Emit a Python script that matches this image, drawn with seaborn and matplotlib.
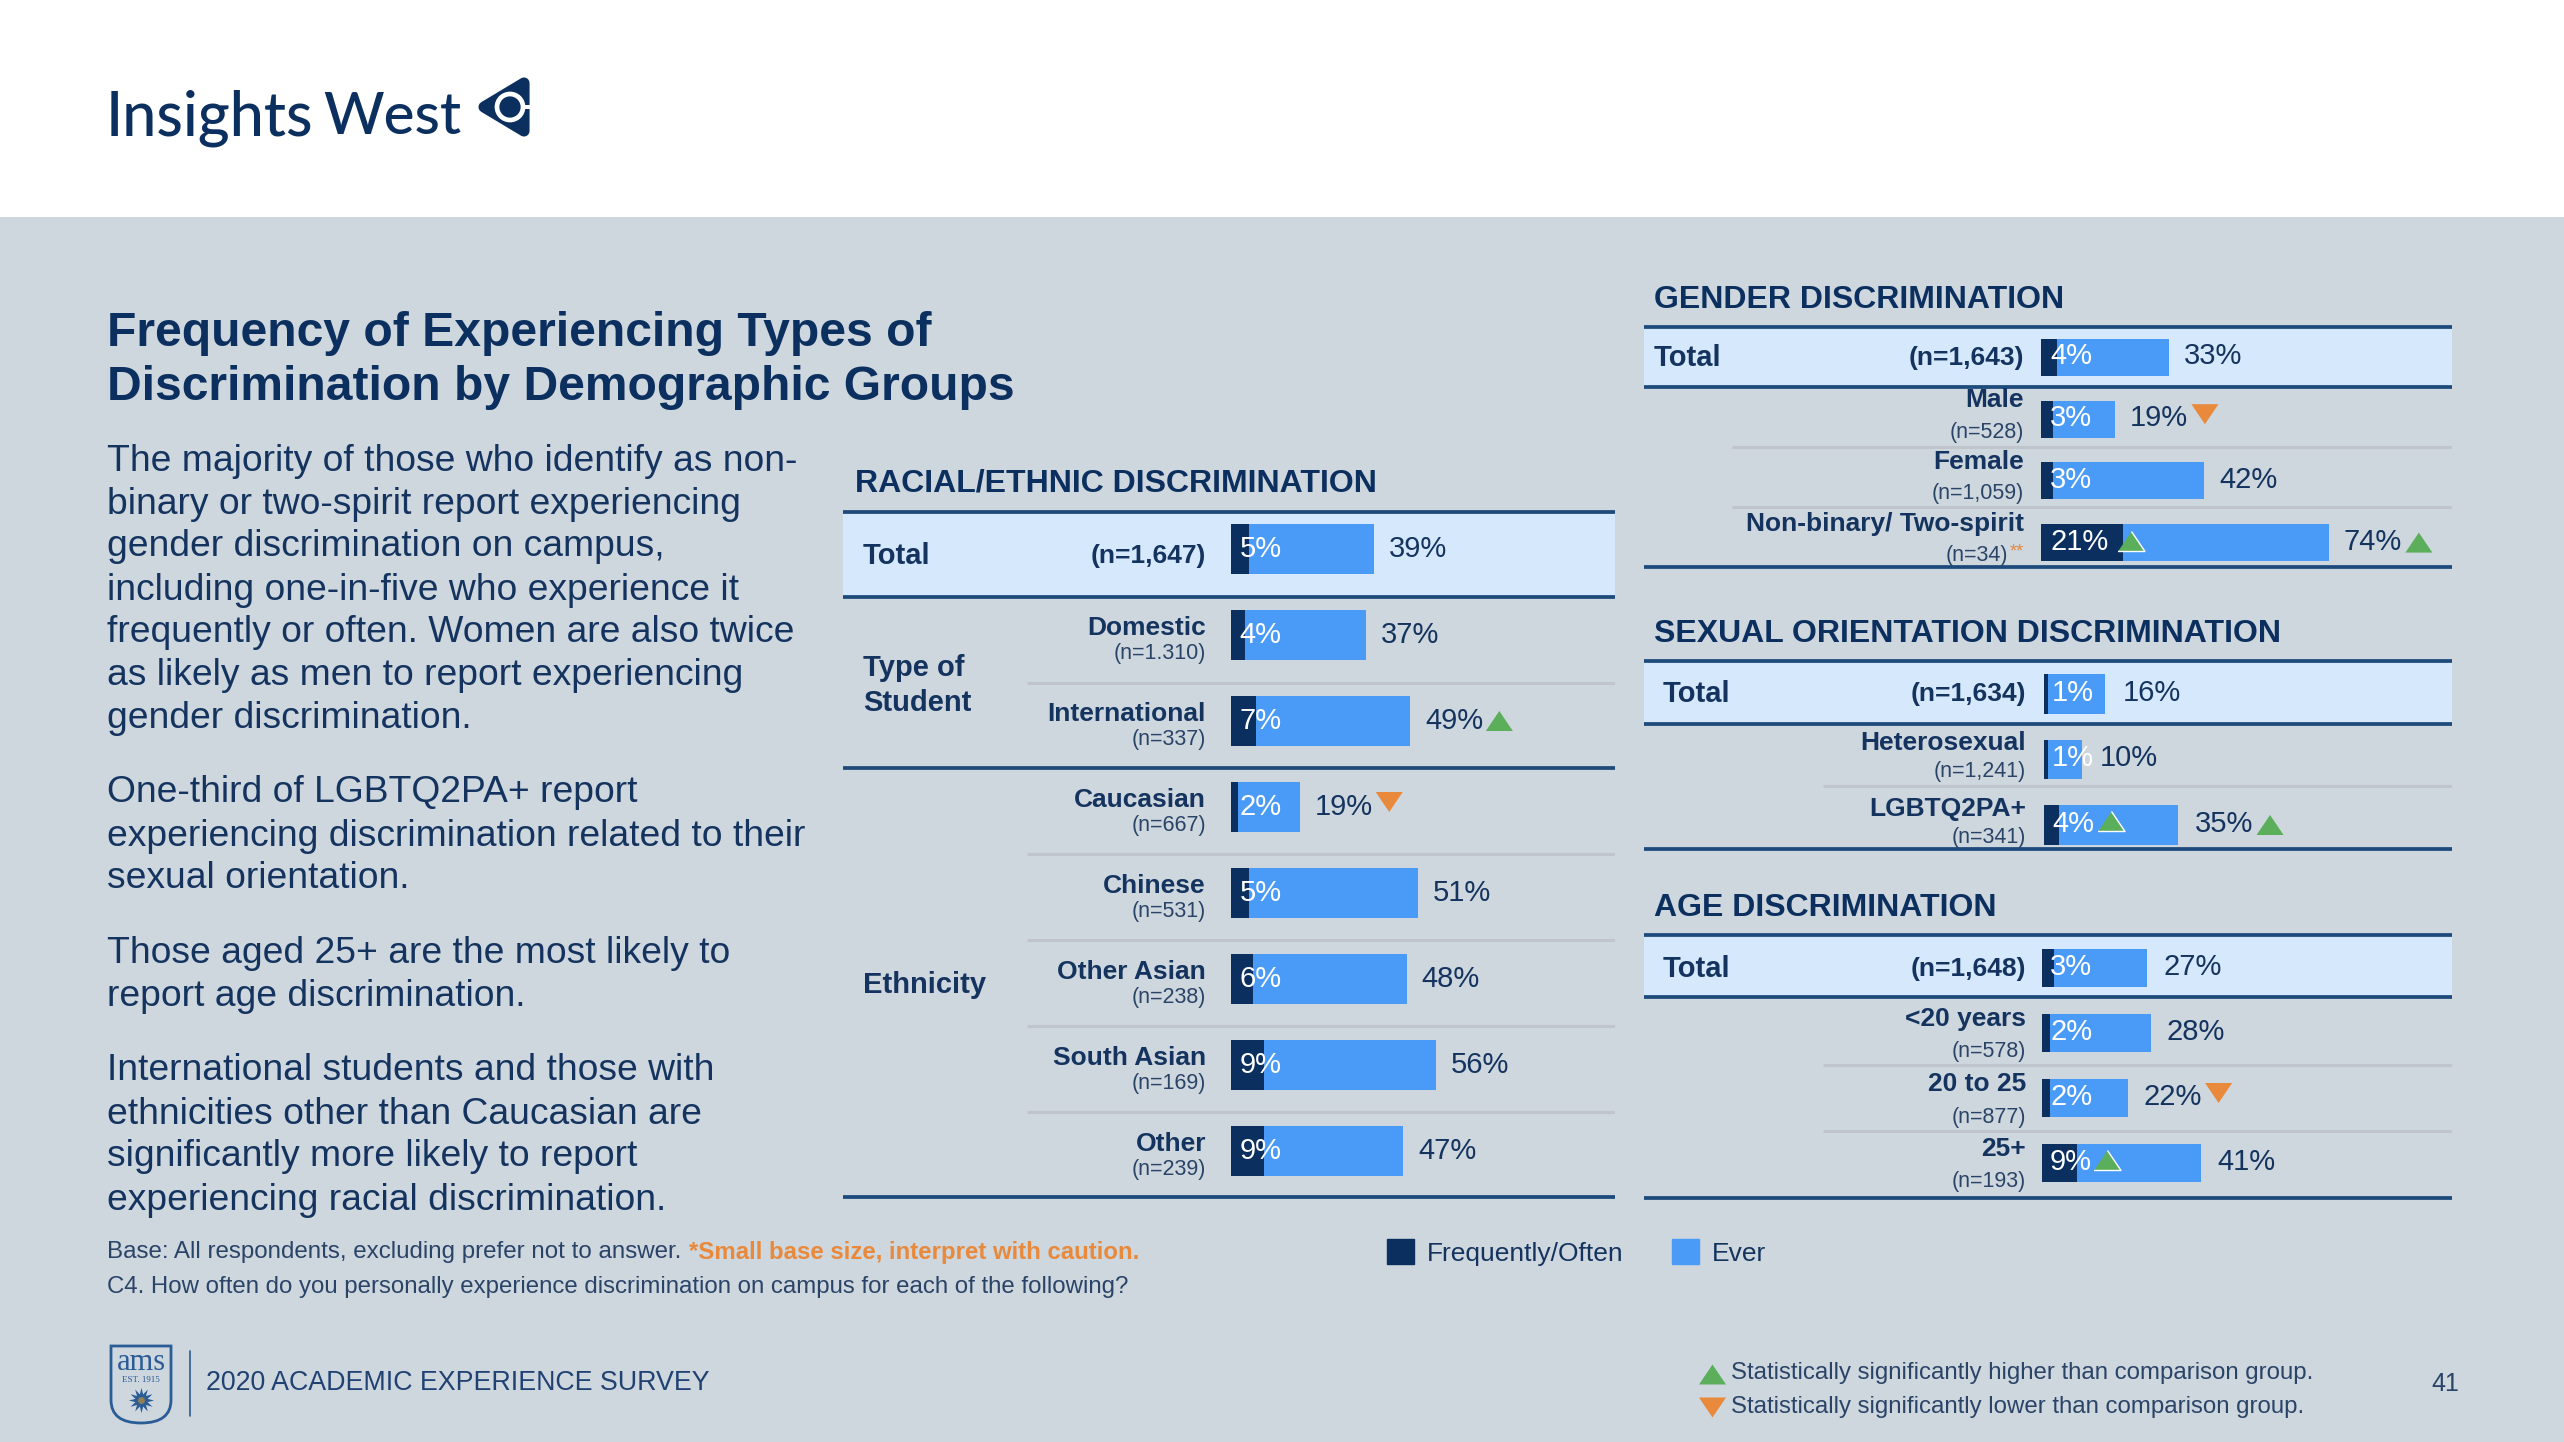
import matplotlib
matplotlib.use("Agg")
import matplotlib.pyplot as plt
import pandas as pd
import seaborn as sns
from matplotlib.patches import Rectangle, Polygon, Circle, PathPatch, Patch
from matplotlib.path import Path
from matplotlib.transforms import ScaledTranslation

# ---------------- data ----------------
race_labels = ["Total", "Domestic", "International", "Caucasian", "Chinese", "Other Asian", "South Asian", "Other"]
race_n = ["(n=1,647)", "(n=1.310)", "(n=337)", "(n=667)", "(n=531)", "(n=238)", "(n=169)", "(n=239)"]
race_freq = [5, 4, 7, 2, 5, 6, 9, 9]
race_ever = [39, 37, 49, 19, 51, 48, 56, 47]
race_sig_ever = ["", "", "up", "down", "", "", "", ""]
race_sig_freq = ["", "", "", "", "", "", "", ""]

gender_labels = ["Total", "Male", "Female", "Non-binary/ Two-spirit"]
gender_n = ["(n=1,643)", "(n=528)", "(n=1,059)", "(n=34)"]
gender_freq = [4, 3, 3, 21]
gender_ever = [33, 19, 42, 74]
gender_sig_ever = ["", "down", "", "up"]
gender_sig_freq = ["", "", "", "up"]

sexual_labels = ["Total", "Heterosexual", "LGBTQ2PA+"]
sexual_n = ["(n=1,634)", "(n=1,241)", "(n=341)"]
sexual_freq = [1, 1, 4]
sexual_ever = [16, 10, 35]
sexual_sig_ever = ["", "", "up"]
sexual_sig_freq = ["", "", "up"]

age_labels = ["Total", "<20 years", "20 to 25", "25+"]
age_n = ["(n=1,648)", "(n=578)", "(n=877)", "(n=193)"]
age_freq = [3, 2, 2, 9]
age_ever = [27, 28, 22, 41]
age_sig_ever = ["", "", "down", ""]
age_sig_freq = ["", "", "", "up"]

title_lines = ["Frequency of Experiencing Types of", "Discrimination by Demographic Groups"]
body_lines = [
    "The majority of those who identify as non-", "binary or two-spirit report experiencing",
    "gender discrimination on campus,", "including one-in-five who experience it",
    "frequently or often. Women are also twice", "as likely as men to report experiencing",
    "gender discrimination.",
    "One-third of LGBTQ2PA+ report", "experiencing discrimination related to their", "sexual orientation.",
    "Those aged 25+ are the most likely to", "report age discrimination.",
    "International students and those with", "ethnicities other than Caucasian are",
    "significantly more likely to report", "experiencing racial discrimination.",
]
body_y = [459.5, 502, 544.5, 588, 631, 673.5, 716, 791, 834, 876, 951.5, 994, 1069, 1112, 1154, 1198]

# ---------------- style ----------------
W, H = 2564, 1442
BG = "#CED6DE"; BAND = "#D6E8FB"; DARK = "#0B2F5E"; BLUE = "#4A9BF8"
INK = "#14345F"; SOFT = "#2A4468"; GREEN = "#5BAE5A"; ORANGE = "#E8893B"
RULE = "#1E4A7B"; LIGHT = "#BFC5CB"

sns.set_theme(style="white")
plt.rcParams["font.family"] = ["Liberation Sans", "DejaVu Sans"]

fig = plt.figure(figsize=(W / 100, H / 100), dpi=100, facecolor=BG)
bg = fig.add_axes([0, 0, 1, 1], zorder=0)
bg.set_xlim(0, W); bg.set_ylim(H, 0); bg.axis("off")

def T(x, y, s, size, color=INK, weight="normal", ha="left", **kw):
    return bg.text(x, y + 2, s, fontsize=size, color=color, fontweight=weight, ha=ha, va="center", **kw)

TRI_UP = [(-1, -0.74), (1, -0.74), (0, 0.74)]
TRI_DN = [(-1, 0.74), (1, 0.74), (0, -0.74)]
TRI_S = 378

def panel(labels, ns, freq, ever, sig_e, sig_f, x0, x1, bar0, ppu, c0, step, top, bottom,
          band_bot, seps, major, light_x, bar_w, name_dy, n_dy, name_x, total_x, total_dy,
          val_dx, val_dy, in_dx, tri_dx, f_tri, star_rows=()):
    ax = fig.add_axes([x0 / W, 1 - bottom / H, (x1 - x0) / W, (bottom - top) / H], zorder=2)
    ax.set_facecolor("none")
    df = pd.DataFrame({"label": labels, "ever": ever, "freq": freq})
    tod = lambda p: (p - c0) / step
    ax.axhspan(tod(top), tod(band_bot), color=BAND, lw=0, zorder=0)
    sns.barplot(data=df, y="label", x="ever", order=labels, color=BLUE, saturation=1,
                width=bar_w, orient="h", ax=ax, zorder=2, edgecolor="none", linewidth=0)
    sns.barplot(data=df, y="label", x="freq", order=labels, color=DARK, saturation=1,
                width=bar_w, orient="h", ax=ax, zorder=3, edgecolor="none", linewidth=0)
    ax.set_xlim((x0 - bar0) / ppu, (x1 - bar0) / ppu)
    ax.set_ylim(tod(bottom), tod(top))
    ax.set_xlabel(""); ax.set_ylabel(""); ax.set_xticks([]); ax.set_yticks([])
    for s in ax.spines.values():
        s.set_visible(False)
    xl = (light_x - bar0) / ppu
    xmin, xmax = ax.get_xlim()
    for p in seps:
        ax.hlines(tod(p), xl, xmax, color=LIGHT, lw=2.2, zorder=1)
    for p in [top, band_bot, bottom] + major:
        ax.hlines(tod(p), xmin, xmax, color=RULE, lw=2.7, zorder=4, clip_on=False)

    def note(x, i, dx, dy, s, **kw):
        ax.annotate(s, xy=(x, i), xytext=(dx, -dy - 2), textcoords="offset pixels", va="center",
                    annotation_clip=False, zorder=6, **kw)

    def tri(x, i, dx, dy, up, edge):
        tr = ax.transData + ScaledTranslation(dx / 100, -dy / 100, fig.dpi_scale_trans)
        ax.scatter([x], [i], s=TRI_S, marker=TRI_UP if up else TRI_DN, facecolors=GREEN if up else ORANGE,
                   edgecolors=edge, linewidths=1.0 if edge != "none" else 0, transform=tr, zorder=7)

    name_off = -(bar0 - name_x)
    for i, lab in enumerate(labels):
        if i == 0:
            note(0, 0, -(bar0 - total_x), total_dy, lab, fontsize=21, color=INK, fontweight="bold", ha="left")
            note(0, 0, name_off, total_dy, ns[0], fontsize=19, color=INK, fontweight="bold", ha="right")
        else:
            note(0, i, name_off, name_dy, lab, fontsize=19, color=INK, fontweight="bold", ha="right")
            if i in star_rows:
                note(0, i, name_off - 15.5, n_dy, ns[i], fontsize=15.5, color=SOFT, ha="right")
                note(0, i, name_off - 14, n_dy - 4, "**", fontsize=13, color=ORANGE, ha="left")
            else:
                note(0, i, name_off, n_dy, ns[i], fontsize=15.5, color=SOFT, ha="right")
        note(ever[i], i, val_dx, val_dy, f"{ever[i]}%", fontsize=21, color=INK, ha="left")
        note(0, i, in_dx, val_dy, f"{freq[i]}%", fontsize=21, color="white", ha="left")
        if sig_e[i]:
            tri(ever[i], i, tri_dx, -5 if sig_e[i] == "down" else 0, sig_e[i] == "up", "none")
        if sig_f[i]:
            dx, dy = f_tri[i]
            tri(freq[i], i, dx, dy, True, "white")
    return ax

# header, logo
bg.add_patch(Rectangle((0, 0), W, 217, color="white", lw=0))
T(106, 116, "Insights", 44, color=DARK, family="Lato", weight="medium")
T(323, 116, "West", 42, color=DARK, family="Lato", weight="medium")
bg.add_patch(Polygon([(484, 107), (524, 83), (524, 131)], closed=True, facecolor=DARK, edgecolor=DARK,
                     lw=8, joinstyle="round"))
bg.add_patch(Circle((510, 107), 13, facecolor=DARK, edgecolor="white", lw=3.4))
bg.add_patch(Rectangle((521, 105), 12, 3.5, color="white", lw=0))

# left column
for y, s in zip([331, 386], title_lines):
    T(107, y, s, 34.6, color=DARK, weight="bold")
for y, s in zip(body_y, body_lines):
    T(107, y, s, 26.8, color=INK)

# section heads
T(855, 481, "RACIAL/ETHNIC DISCRIMINATION", 23, color=DARK, weight="bold")
T(1654, 298, "GENDER DISCRIMINATION", 23, color=DARK, weight="bold")
T(1654, 632, "SEXUAL ORIENTATION DISCRIMINATION", 23, color=DARK, weight="bold")
T(1654, 906, "AGE DISCRIMINATION", 23, color=DARK, weight="bold")
T(863, 666, "Type of", 21, weight="bold")
T(863, 701, "Student", 21, weight="bold")
T(863, 983, "Ethnicity", 21, weight="bold")

panel(race_labels, race_n, race_freq, race_ever, race_sig_ever, race_sig_freq,
      843, 1615, 1230.5, 3.67, 549, 86, 512, 1197, 597, [683, 854, 940, 1026, 1112], [768], 1027, 0.59,
      -9, 17, 1206, 863, 5, 15, -2, 9, 89, {})
panel(gender_labels, gender_n, gender_freq, gender_ever, gender_sig_ever, gender_sig_freq,
      1644, 2452, 2041, 3.89, 357.5, 61.7, 327, 567, 387, [447, 507], [], 1732, 0.6,
      -21, 11, 2024, 1654, -2, 15, -3, 9, 90, {3: (8, -2)}, star_rows=(3,))
panel(sexual_labels, sexual_n, sexual_freq, sexual_ever, sexual_sig_ever, sexual_sig_freq,
      1644, 2452, 2044, 3.83, 694, 65.5, 661, 849, 724, [786], [], 1823, 0.6,
      -18, 10, 2026, 1663, -2, 17, -3, 8, 92, {2: (52, -4)})
panel(age_labels, age_n, age_freq, age_ever, age_sig_ever, age_sig_freq,
      1644, 2452, 2042, 3.89, 968, 65, 935, 1198, 997.5, [1065, 1131], [], 1823, 0.585,
      -16, 17, 2026, 1663, -1, 16, -3, 8, 91, {3: (30, -3.5)})

# footnotes
T(107, 1250, "Base: All respondents, excluding prefer not to answer.", 17.35, color=SOFT)
T(689, 1250, "*Small base size, interpret with caution.", 17.3, color=ORANGE, weight="bold")
T(107, 1285, "C4. How often do you personally experience discrimination on campus for each of the following?", 17.3, color=SOFT)

# legend
fig.legend(handles=[Patch(color=DARK, label="Frequently/Often"), Patch(color=BLUE, label="Ever")],
           ncol=2, loc="center left", bbox_to_anchor=(1387 / W, 1 - 1252.5 / H), frameon=False, fontsize=19,
           handlelength=1.03, handleheight=1.03, handletextpad=0.47, columnspacing=1.85, borderpad=0,
           borderaxespad=0, labelcolor=INK)

# significance key
bg.scatter([1712], [1374], s=TRI_S, marker=TRI_UP, color=GREEN, linewidths=0)
bg.scatter([1712], [1407], s=TRI_S, marker=TRI_DN, color=ORANGE, linewidths=0)
T(1731, 1371, "Statistically significantly higher than comparison group.", 17.3, color=SOFT)
T(1731, 1405, "Statistically significantly lower than comparison group.", 17.3, color=SOFT)
T(2445, 1382, "41", 18, color=SOFT, ha="center")

# footer crest
CREST = "#2A5C96"
crest_path = Path([(111, 1346), (171, 1346), (171, 1400), (171, 1423), (141, 1423), (111, 1423), (111, 1400), (111, 1346)],
                  [Path.MOVETO, Path.LINETO, Path.LINETO, Path.CURVE3, Path.CURVE3, Path.CURVE3, Path.CURVE3, Path.CLOSEPOLY])
bg.add_patch(PathPatch(crest_path, facecolor="none", edgecolor=CREST, lw=2))
T(141, 1361, "ams", 22, color=CREST, ha="center", family="Liberation Serif")
T(141, 1378, "EST. 1915", 6.5, color=CREST, ha="center", family="Liberation Serif")
bg.scatter([141], [1400], s=330, marker=(12, 1, 0), color=CREST, linewidths=0)
bg.scatter([141], [1400], s=25, color="#8F7F55", linewidths=0)
bg.plot([190, 190], [1351, 1416], color=CREST, lw=1.2)
T(206, 1381, "2020 ACADEMIC EXPERIENCE SURVEY", 19.3, color="#1F4272")

fig.savefig("out.png", dpi=100, facecolor=BG)
